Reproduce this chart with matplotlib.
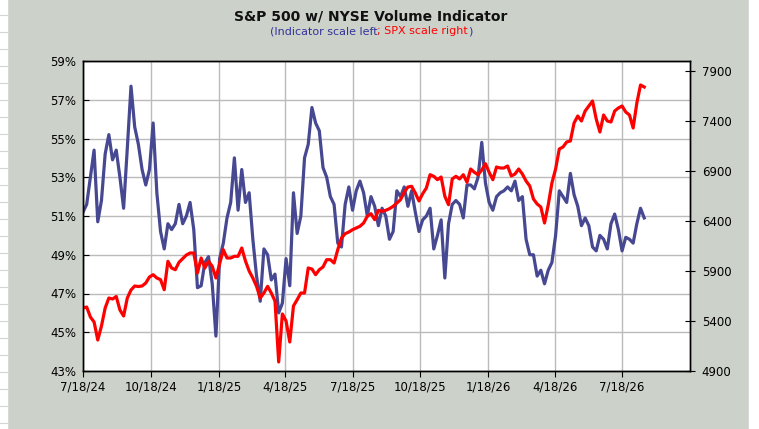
import matplotlib
matplotlib.use("Agg")
import matplotlib.pyplot as plt
import matplotlib.dates as mdates
from matplotlib.ticker import FixedLocator, FuncFormatter
from matplotlib.offsetbox import TextArea, HPacker, AnnotationBbox
from matplotlib.patches import Rectangle
import pandas as pd

# indicator (%), read every 5 days from 7/18/24
indicador = [
    51.2, 51.6, 53.0, 54.4, 50.7, 51.8, 54.2, 55.2, 53.9, 54.4, 53.0, 51.4, 54.5, 57.7, 55.6, 54.7, 53.4, 52.6, 53.4,
    55.8, 52.2, 50.2, 49.3, 50.6, 50.3, 50.6, 51.6, 50.6, 51.0, 51.7, 50.3, 47.3, 47.4, 48.6, 48.9, 47.5, 44.8, 48.8,
    49.6, 50.9, 51.7, 54.0, 51.3, 53.4, 51.7, 52.2, 49.8, 47.9, 46.6, 49.3, 49.0, 47.7, 48.0, 46.0, 46.5, 48.8, 47.4,
    52.2, 50.1, 51.0, 54.0, 54.7, 56.6, 55.8, 55.4, 53.5, 53.0, 52.0, 51.6, 49.6, 49.4, 51.6, 52.5, 51.3, 52.3, 52.8,
    52.2, 51.0, 52.0, 51.5, 50.5, 51.4, 51.0, 49.8, 50.2, 52.3, 52.0, 52.5, 51.5, 52.3, 51.2, 50.2, 50.8, 51.0, 51.4,
    49.3, 50.0, 50.8, 47.8, 50.6, 51.6, 51.8, 51.6, 50.9, 52.6, 52.6, 52.4, 53.0, 54.8, 52.7, 51.7, 51.3, 52.0, 52.2,
    52.3, 52.5, 52.3, 52.8, 51.8, 52.0, 49.8, 49.0, 49.0, 47.9, 48.2, 47.5, 48.2, 48.6, 50.0, 52.3, 52.0, 51.7, 53.2,
    52.1, 51.5, 50.5, 50.9, 50.5, 49.4, 49.2, 50.0, 49.8, 49.3, 50.6, 51.1, 50.3, 49.2, 49.9, 49.8, 49.6, 50.6, 51.4, 50.9,
]

# S&P 500 close, same dates
spx = [
    5530, 5540, 5440, 5390, 5210, 5350, 5530, 5630, 5620, 5645, 5510, 5450, 5630, 5710, 5750, 5745, 5750, 5780, 5840,
    5863, 5830, 5813, 5713, 5997, 5930, 5913, 5987, 6023, 6060, 6080, 6080, 5880, 6030, 5930, 5997, 5947, 5830, 5973,
    6113, 6030, 6030, 6047, 6047, 6130, 6000, 5900, 5830, 5747, 5630, 5680, 5747, 5680, 5600, 4990, 5470, 5400, 5190,
    5550, 5613, 5680, 5680, 5930, 5920, 5863, 5913, 5940, 6013, 6013, 5980, 6113, 6230, 6273, 6290, 6313, 6330, 6347,
    6380, 6447, 6473, 6413, 6507, 6497, 6507, 6523, 6547, 6580, 6613, 6687, 6740, 6747, 6680, 6600, 6673, 6730, 6863,
    6847, 6813, 6840, 6647, 6563, 6820, 6847, 6820, 6863, 6787, 6920, 6887, 6863, 6910, 6973, 6887, 6813, 6940, 6930,
    6930, 6950, 6850, 6870, 6920, 6870, 6800, 6750, 6620, 6570, 6540, 6380, 6560, 6780, 6920, 7120, 7140, 7190, 7200,
    7380, 7450, 7400, 7500, 7550, 7600, 7420, 7290, 7460, 7400, 7390, 7500, 7530, 7550, 7490, 7460, 7330, 7580, 7760, 7740,
]

fechas = pd.date_range("2024-07-18", periods=len(spx), freq="5D")
ticks_x = pd.date_range("2024-07-18", "2026-07-18", freq=pd.DateOffset(months=3))
ticks_izq = list(range(43, 60, 2))
ticks_der = list(range(4900, 8000, 500))

azul = "#474892"
rojo = "#FF0000"
fondo = "#CCD1CA"

fig = plt.figure(figsize=(7.59, 4.29), dpi=100, facecolor=fondo)

# bits of spreadsheet around the chart
fig.patches.append(Rectangle((0, 0), 7 / 759, 1, transform=fig.transFigure, color="white", zorder=-5))
fig.patches.append(Rectangle((749 / 759, 0), 10 / 759, 1, transform=fig.transFigure, color="white", zorder=-5))
for yy in range(15, 429, 17):
    fig.add_artist(plt.Line2D([0, 7 / 759], [1 - yy / 429] * 2, transform=fig.transFigure, color="#D4D4D4", lw=0.8))

ax = fig.add_axes([83 / 759, 1 - 371 / 429, 607 / 759, 310 / 429])
ax.set_facecolor("white")
ax2 = ax.twinx()

ax.plot(fechas, indicador, color=azul, lw=2.3, solid_joinstyle="round")
ax2.plot(fechas, spx, color=rojo, lw=2.3, solid_joinstyle="round")

ax.set_xlim(pd.Timestamp("2024-07-18"), pd.Timestamp("2026-10-18"))
ax.set_ylim(43, 59)
ax2.set_ylim(4900, 8000)

ax.xaxis.set_major_locator(FixedLocator(mdates.date2num(ticks_x)))
ax.xaxis.set_major_formatter(FuncFormatter(
    lambda v, p: (lambda d: f"{d.month}/{d.day}/{d:%y}")(mdates.num2date(v))))
ax.yaxis.set_major_locator(FixedLocator(ticks_izq))
ax.yaxis.set_major_formatter(FuncFormatter(lambda v, p: f"{v:.0f}%"))
ax2.yaxis.set_major_locator(FixedLocator(ticks_der))

ax.grid(True, color="#BBBBBB", lw=1)
ax.set_axisbelow(True)

ax.tick_params(axis="y", direction="in", length=4, labelsize=8.5, pad=5)
ax.tick_params(axis="x", direction="out", length=4, labelsize=8.5, pad=3)
ax2.tick_params(axis="y", direction="inout", length=7, labelsize=8.5, pad=5)

for a in (ax, ax2):
    for s in a.spines.values():
        s.set_color("black")
        s.set_linewidth(1)

fig.text(371 / 759, 1 - 16 / 429, "S&P 500 w/ NYSE Volume Indicator",
         ha="center", va="center", fontsize=10, fontweight="bold", color="#111111")

partes = [
    TextArea("(Indicator scale left", textprops=dict(color="#333399", size=8)),
    TextArea("; SPX scale right", textprops=dict(color=rojo, size=8)),
    TextArea(")", textprops=dict(color="#333399", size=8)),
]
caja = HPacker(children=partes, align="baseline", pad=0, sep=0)
fig.add_artist(AnnotationBbox(caja, (371 / 759, 1 - 31 / 429), xycoords="figure fraction",
                              frameon=False, box_alignment=(0.5, 0.5)))

fig.savefig("out.png", dpi=100, facecolor=fig.get_facecolor())
